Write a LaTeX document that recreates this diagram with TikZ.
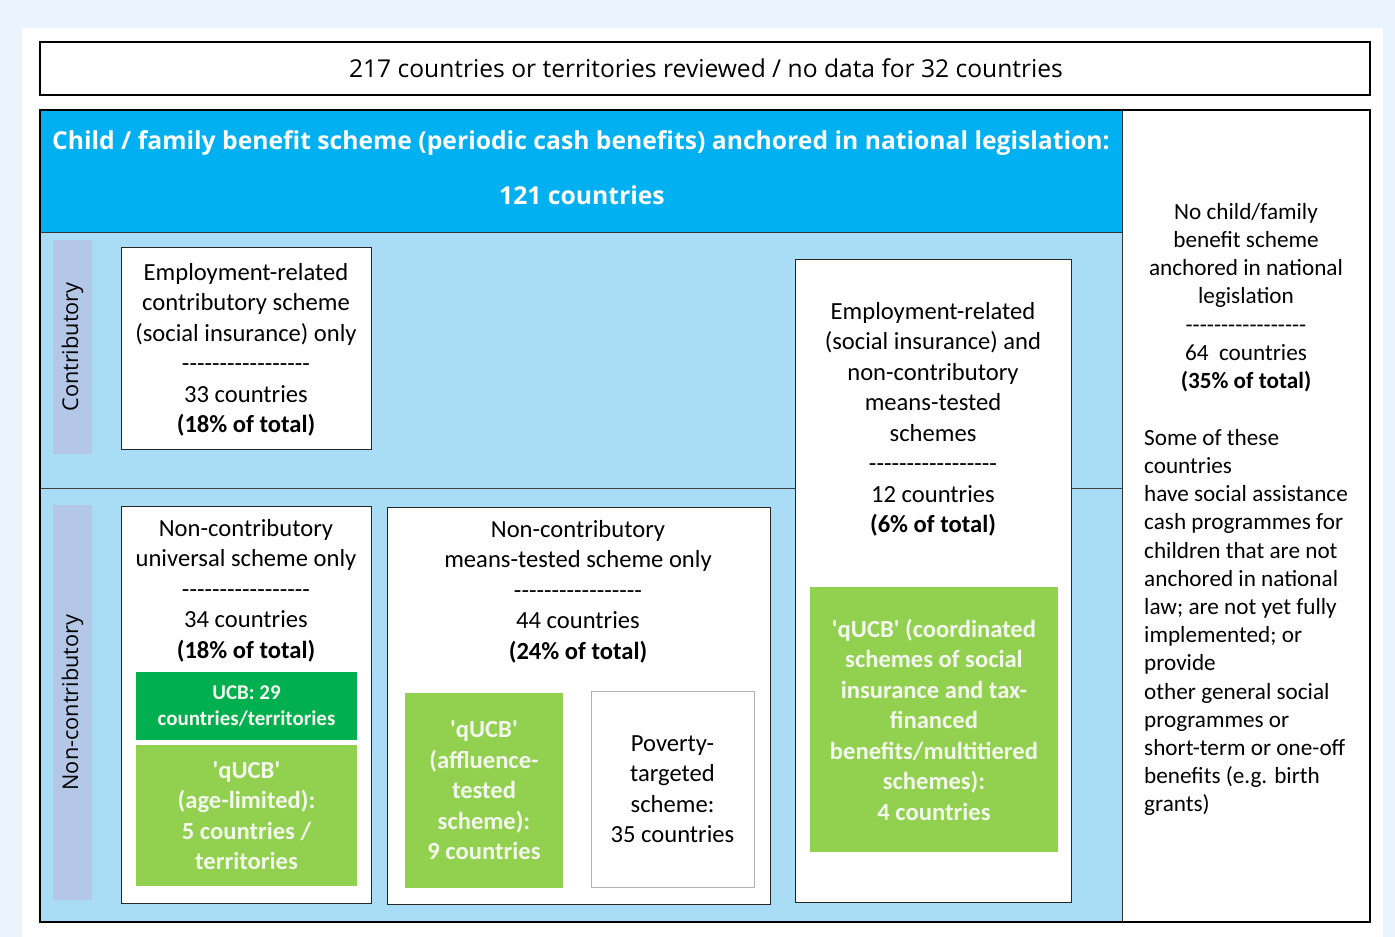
\documentclass[tikz,border=0pt]{standalone}
\usepackage{fontspec}
\setmainfont{Carlito}[Ligatures=TeXOff]
\newfontfamily\osans{Open Sans}[Ligatures=TeXOff]
\definecolor{pagebg}{HTML}{EBF4FC}
\definecolor{hblue}{HTML}{00B0F0}
\definecolor{lblue}{HTML}{A9DDF6}
\definecolor{lav}{HTML}{B4C7E7}
\definecolor{dgreen}{HTML}{00B050}
\definecolor{lgreen}{HTML}{92D050}
\definecolor{offwhite}{HTML}{F4F9EE}
\begin{document}
\begin{tikzpicture}[x=1pt,y=-1pt,
  area/.style={anchor=north west, inner sep=0pt, outer sep=0pt},
  wbox/.style={area, draw=black!85, fill=white, line width=1pt},
  gbox/.style={area, fill=lgreen},
  band/.style={area, fill=lav},
  txt/.style={align=center, inner sep=0pt, font=\fontsize{24.6}{30.5}\selectfont},
  gtxt/.style={align=center, inner sep=0pt, text=offwhite, font=\bfseries\fontsize{24.6}{30.5}\selectfont},
  side/.style={rotate=90, inner sep=0pt, font=\osans\fontsize{21.7}{26}\selectfont}
]
\useasboundingbox (0,0) rectangle (1395,937);
\fill[pagebg] (0,0) rectangle (1395,937);
\fill[white] (22,28) rectangle (1383,937);

% top box
\node[area, draw=black, line width=2pt, fill=white, minimum width=1330pt, minimum height=53pt] (top) at (40,42) {};
\node[inner sep=0pt, font=\osans\fontsize{24.6}{28}\selectfont] (toptxt) at (706,68) {217 countries or territories reviewed / no data for 32 countries};

% header and body
\node[area, fill=hblue, minimum width=1082pt, minimum height=122pt] (head) at (40,110) {};
\node[area, fill=lblue, minimum width=1082pt, minimum height=690pt] (body) at (40,232) {};
\node[area, fill=white, minimum width=248pt, minimum height=812pt] (rcol) at (1122,110) {};
\draw[black!80, line width=1pt] (head.south west) -- (head.south east);
\draw[black!80, line width=1pt] (rcol.north west) -- (rcol.south west);
\node[inner sep=0pt, text=white, font=\osans\bfseries\fontsize{24.7}{28}\selectfont] (htxt1) at (581,143) {Child / family benefit scheme (periodic cash benefits) anchored in national legislation:};
\node[inner sep=0pt, text=white, font=\osans\bfseries\fontsize{24.7}{28}\selectfont] (htxt2) at (582,195) {121 countries};

% side bands
\node[band, minimum width=39pt, minimum height=214pt] (bc) at (53,240) {};
\node[side] (bctxt) at (bc.center) {Contributory};
\node[band, minimum width=39pt, minimum height=395pt] (bn) at (53,505) {};
\node[side] (bntxt) at (bn.center) {Non-contributory};

% box 4 (spans both rows)
\node[wbox, minimum width=276pt, minimum height=643pt] (b4) at (795,259) {};
\coordinate (dL) at (40,488);
\coordinate (dR) at (1122,488);
\draw[black!75, line width=1pt] (dL) -- (dL -| b4.west);
\draw[black!75, line width=1pt] (dR -| b4.east) -- (dR);
\node[txt, anchor=north] (b4txt) at (933,302) {Employment-related\\(social insurance) and\\non-contributory\\means-tested\\schemes\\-----------------\\12 countries\\\textbf{(6\% of total)}};
\node[gbox, minimum width=248pt, minimum height=265pt] (g4) at (810,587) {};
\node[gtxt] (g4txt) at (g4.center) {'qUCB' (coordinated\\schemes of social\\insurance and tax-\\financed\\benefits/multitiered\\schemes):\\4 countries};

% box 1
\node[wbox, minimum width=250pt, minimum height=202pt] (b1) at (121,247) {};
\node[txt] (b1txt) at (246,350) {Employment-related\\contributory scheme\\(social insurance) only\\-----------------\\33 countries\\\textbf{(18\% of total)}};

% box 2
\node[wbox, minimum width=250pt, minimum height=397pt] (b2) at (121,506) {};
\node[txt, anchor=north] (b2txt) at (246,519) {Non-contributory\\universal scheme only\\-----------------\\34 countries\\\textbf{(18\% of total)}};
\node[area, fill=dgreen, minimum width=221pt, minimum height=68pt] (g2a) at (136,672) {};
\node[align=center, inner sep=0pt, text=offwhite, font=\bfseries\fontsize{21}{26}\selectfont] (g2atxt) at (g2a.center) {UCB: 29\\countries/territories};
\node[gbox, minimum width=221pt, minimum height=141pt] (g2b) at (136,745) {};
\node[gtxt] (g2btxt) at (g2b.center) {'qUCB'\\(age-limited):\\5 countries /\\territories};

% box 3
\node[wbox, minimum width=383pt, minimum height=397pt] (b3) at (387,507) {};
\node[txt, anchor=north] (b3txt) at (578,520) {Non-contributory\\means-tested scheme only\\-----------------\\44 countries\\\textbf{(24\% of total)}};
\node[gbox, minimum width=158pt, minimum height=195pt] (g3) at (405,693) {};
\node[gtxt] (g3txt) at (g3.center) {'qUCB'\\(affluence-\\tested\\scheme):\\9 countries};
\node[area, draw=black!30, fill=white, line width=0.8pt, minimum width=163pt, minimum height=196pt] (pov) at (591,691) {};
\node[txt] (povtxt) at (pov.center) {Poverty-\\targeted\\scheme:\\35 countries};

% right column text
\node[align=center, inner sep=0pt, anchor=north, font=\fontsize{23.2}{28.2}\selectfont] (rtxt1) at (1246,203) {No child/family\\benefit scheme\\anchored in national\\legislation\\-----------------\\64\ \ countries\\\textbf{(35\% of total)}};
\node[align=left, inner sep=0pt, anchor=north west, font=\fontsize{23.2}{28.2}\selectfont] (rtxt2) at (1144,429) {Some of these\\countries\\have social assistance\\cash programmes for\\children that are not\\anchored in national\\law; are not yet fully\\implemented; or\\provide\\other general social\\programmes or\\short-term or one-off\\benefits (e.g. birth\\grants)};

% main frame
\draw[black, line width=2pt] (head.north west) rectangle (rcol.south east);
\end{tikzpicture}
\end{document}
